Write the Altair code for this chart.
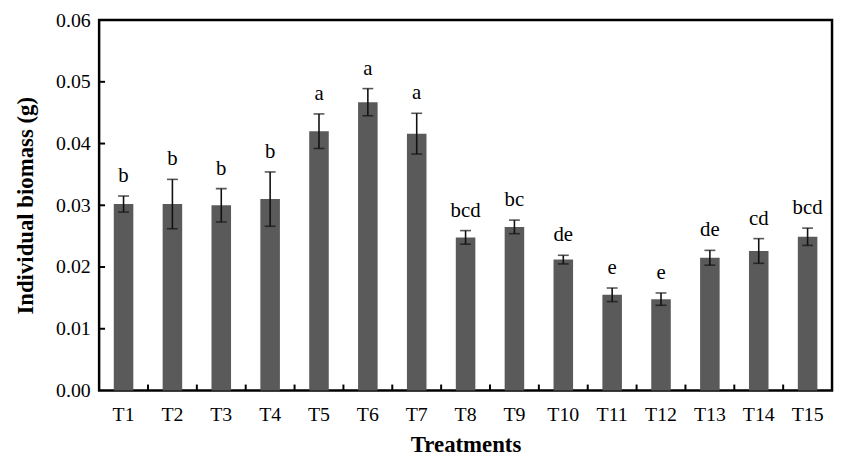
import altair as alt
import pandas as pd

treatments = ["T1", "T2", "T3", "T4", "T5", "T6", "T7", "T8", "T9", "T10", "T11", "T12", "T13", "T14", "T15"]
biomass = [0.0302, 0.0302, 0.0300, 0.0310, 0.0420, 0.0467, 0.0416, 0.0248, 0.0265, 0.0212, 0.0155, 0.0148, 0.0215, 0.0226, 0.0249]
errors = [0.0013, 0.0040, 0.0027, 0.0044, 0.0028, 0.0022, 0.0033, 0.0011, 0.0011, 0.0007, 0.0011, 0.0010, 0.0012, 0.0020, 0.0014]
letters = ["b", "b", "b", "b", "a", "a", "a", "bcd", "bc", "de", "e", "e", "de", "cd", "bcd"]
y_ticks = [0.00, 0.01, 0.02, 0.03, 0.04, 0.05, 0.06]

df = pd.DataFrame({"t": treatments, "v": biomass, "e": errors, "lab": letters})
df["lo"] = df["v"] - df["e"]
df["hi"] = df["v"] + df["e"]

FONT = "Liberation Serif, Times New Roman, serif"
W, H = 740, 374

xscale = alt.Scale(domain=treatments, paddingInner=0, paddingOuter=0)
yscale = alt.Scale(domain=[0, 0.06], nice=False)

x_enc = alt.X("t:N", sort=treatments, scale=xscale,
              axis=alt.Axis(title="Treatments", labelAngle=0, ticks=False, domain=False,
                            labelFont=FONT, labelFontSize=20, labelColor="black", labelPadding=14,
                            titleFont=FONT, titleFontSize=23, titleFontWeight="bold", titleColor="black",
                            titlePadding=10))

base = alt.Chart(df)

bars = base.mark_bar(color="#5a5a5a", width=alt.RelativeBandSize(0.4)).encode(
    x=x_enc,
    y=alt.Y("v:Q", scale=yscale,
            axis=alt.Axis(title="Individual biomass (g)", values=y_ticks, format=".2f",
                          ticks=False, domain=False, grid=False,
                          labelFont=FONT, labelFontSize=20, labelColor="black", labelPadding=9,
                          titleFont=FONT, titleFontSize=23, titleFontWeight="bold", titleColor="black",
                          titlePadding=18)),
)

err = base.mark_rule(color="#111111", strokeWidth=1.6).encode(
    x=alt.X("t:N", sort=treatments, scale=xscale),
    y=alt.Y("lo:Q", scale=yscale),
    y2="hi:Q",
)
cap_hi = base.mark_tick(color="#111111", thickness=1.6, size=11).encode(
    x=alt.X("t:N", sort=treatments, scale=xscale),
    y=alt.Y("hi:Q", scale=yscale),
)
cap_lo = base.mark_tick(color="#111111", thickness=1.6, size=11).encode(
    x=alt.X("t:N", sort=treatments, scale=xscale),
    y=alt.Y("lo:Q", scale=yscale),
)
txt = base.mark_text(font=FONT, fontSize=21, color="black", baseline="alphabetic", dy=-14).encode(
    x=alt.X("t:N", sort=treatments, scale=xscale),
    y=alt.Y("hi:Q", scale=yscale),
    text="lab:N",
)

xt = pd.DataFrame({"t": treatments[:-1]})
xticks = alt.Chart(xt).mark_rule(color="black", strokeWidth=2).encode(
    x=alt.X("t:N", sort=treatments, scale=xscale, bandPosition=1),
    y=alt.value(H),
    y2=alt.value(H - 6),
)
yt = pd.DataFrame({"y": y_ticks[1:-1]})
yticks = alt.Chart(yt).mark_rule(color="black", strokeWidth=2).encode(
    y=alt.Y("y:Q", scale=yscale),
    x=alt.value(0),
    x2=alt.value(6),
)

chart = alt.layer(bars, err, cap_hi, cap_lo, txt, xticks, yticks).properties(
    width=W, height=H,
    background="white",
    autosize=alt.AutoSizeParams(type="none"),
    padding={"left": 92, "top": 10, "right": 3, "bottom": 70},
).configure_view(stroke="black", strokeWidth=2.5)

chart.save("out.html", embed_options={"renderer": "svg", "actions": False})
